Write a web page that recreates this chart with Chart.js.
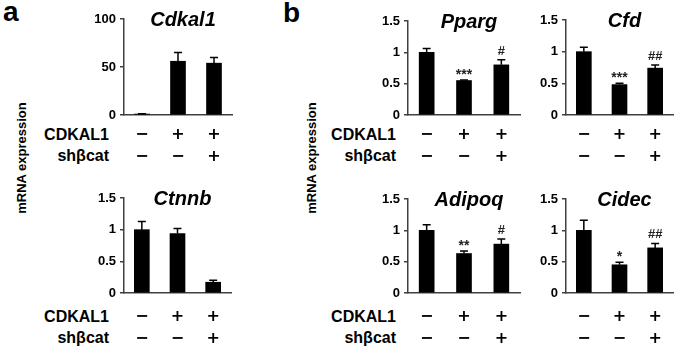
<!DOCTYPE html>
<html lang="en">
<head>
<meta charset="UTF-8">
<title>mRNA expression</title>
<script src="https://cdn.jsdelivr.net/npm/chart.js"></script>
<style>
  body { margin: 0; background: #fff; }
  #fig { position: relative; width: 675px; height: 349px; overflow: hidden;
         font-family: Arial, "Liberation Sans", sans-serif; }
  #fig canvas { position: absolute; }
  .txt { position: absolute; font-weight: bold; line-height: 1; white-space: nowrap; color: #000; }
  .letter { font-size: 28px; }
  .ylab { font-size: 13px; transform: translate(-50%, -50%) rotate(-90deg); }
  .rl { font-size: 16px; width: 100px; text-align: right; }
</style>
</head>
<body>
<div id="fig">
  <div class="txt letter" style="left:3px; top:-2px;">a</div>
  <div class="txt letter" style="left:283px; top:-1px;">b</div>
  <div class="txt ylab" style="left:21px; top:158px;">mRNA expression</div>
  <div class="txt ylab" style="left:311px; top:158px;">mRNA expression</div>

  <div class="txt rl" style="left:9px; top:127px;">CDKAL1</div>
  <div class="txt rl" style="left:9px; top:148px;">shβcat</div>
  <div class="txt rl" style="left:9px; top:309px;">CDKAL1</div>
  <div class="txt rl" style="left:9px; top:330px;">shβcat</div>
  <div class="txt rl" style="left:296px; top:127px;">CDKAL1</div>
  <div class="txt rl" style="left:296px; top:148px;">shβcat</div>
  <div class="txt rl" style="left:296px; top:309px;">CDKAL1</div>
  <div class="txt rl" style="left:296px; top:330px;">shβcat</div>
</div>

<script>
// treatment rows shown under the bars
const cdkal1Row = ['−', '+', '+'];
const shbcatRow = ['−', '−', '+'];

// y ticks
const ticksCdkal1 = [0, 50, 100];
const ticksRel = [0, 0.5, 1, 1.5];

// means, SEM and significance marks
const cdkal1Mean = [1, 56, 54];
const cdkal1Err = [0.3, 9, 6];
const ctnnbMean = [1.0, 0.94, 0.17];
const ctnnbErr = [0.13, 0.08, 0.03];
const ppargMean = [1.0, 0.55, 0.80];
const ppargErr = [0.06, 0.01, 0.08];
const ppargSig = ['', '***', '#'];
const cfdMean = [1.0, 0.48, 0.74];
const cfdErr = [0.07, 0.02, 0.05];
const cfdSig = ['', '***', '##'];
const adipoqMean = [1.0, 0.63, 0.78];
const adipoqErr = [0.09, 0.04, 0.08];
const adipoqSig = ['', '**', '#'];
const cidecMean = [1.0, 0.45, 0.72];
const cidecErr = [0.16, 0.04, 0.07];
const cidecSig = ['', '*', '##'];

const FONT = 'Arial, "Liberation Sans", sans-serif';
const SIGN_FONT = '"DejaVu Sans", Arial, sans-serif';
const AXIS = '#404040';
const fig = document.getElementById('fig');

// error bars, significance marks and the gene name
function extras(title) {
    return {
        id: 'extras',
        afterDatasetsDraw(chart) {
            const ctx = chart.ctx;
            const ds = chart.data.datasets[0];
            const meta = chart.getDatasetMeta(0);
            const y = chart.scales.y;
            ctx.save();
            ctx.strokeStyle = '#000';
            ctx.lineWidth = 1.5;
            meta.data.forEach((bar, i) => {
                const top = y.getPixelForValue(ds.data[i] + ds.errors[i]);
                ctx.beginPath();
                ctx.moveTo(bar.x, bar.y);
                ctx.lineTo(bar.x, top);
                ctx.moveTo(bar.x - 4, top);
                ctx.lineTo(bar.x + 4, top);
                ctx.stroke();
                const s = ds.sig && ds.sig[i];
                if (s) {
                    ctx.fillStyle = '#222';
                    ctx.textAlign = 'center';
                    ctx.textBaseline = 'alphabetic';
                    if (s.startsWith('*')) {
                        ctx.font = 'bold 14px ' + FONT;
                        ctx.fillText(s, bar.x, top - 1);
                    } else {
                        ctx.font = 'bold 13px ' + FONT;
                        ctx.fillText(s, bar.x, top - 5);
                    }
                }
            });
            const ca = chart.chartArea;
            ctx.fillStyle = '#000';
            ctx.font = 'italic bold 20px ' + FONT;
            ctx.textAlign = 'center';
            ctx.textBaseline = 'middle';
            ctx.fillText(title, (ca.left + ca.right) / 2 + 5, ca.top + 1);
            ctx.restore();
        }
    };
}

function makePanel(p) {
    const PL = 44, PT = 14, PR = 4, XH = 60;
    const cv = document.createElement('canvas');
    cv.width = PL + p.w + PR;
    cv.height = PT + p.h + XH;
    cv.style.left = (p.left - PL) + 'px';
    cv.style.top = (p.top - PT) + 'px';
    fig.appendChild(cv);

    new Chart(cv, {
        type: 'bar',
        data: {
            labels: cdkal1Row.map((c, i) => [c, shbcatRow[i]]),
            datasets: [{
                data: p.mean,
                errors: p.err,
                sig: p.sig,
                backgroundColor: '#000',
                barThickness: 15
            }]
        },
        options: {
            responsive: false,
            animation: false,
            devicePixelRatio: 1,
            layout: { padding: { top: PT, right: PR, left: 0, bottom: 0 } },
            plugins: { legend: { display: false }, tooltip: { enabled: false } },
            scales: {
                x: {
                    grid: { display: true, drawOnChartArea: false, drawTicks: false },
                    border: { color: AXIS, width: 1.5 },
                    ticks: {
                        color: '#000',
                        font: { family: SIGN_FONT, size: 16, weight: 'bold', lineHeight: 1.35 },
                        padding: p.rowPad,
                        maxRotation: 0,
                        autoSkip: false
                    },
                    afterFit: s => { s.height = XH; }
                },
                y: {
                    min: 0,
                    max: p.ticks[p.ticks.length - 1],
                    afterBuildTicks: s => { s.ticks = p.ticks.map(v => ({ value: v })); },
                    grid: { drawOnChartArea: false, drawTicks: true, tickLength: 4, color: AXIS, lineWidth: 1.5 },
                    border: { color: AXIS, width: 1.5 },
                    ticks: {
                        color: '#000',
                        font: { family: FONT, size: 13, weight: 'bold' },
                        padding: 4,
                        callback: v => String(v)
                    },
                    afterFit: s => { s.width = PL; }
                }
            }
        },
        plugins: [extras(p.title)]
    });
}

[
    { title: 'Cdkal1', mean: cdkal1Mean, err: cdkal1Err, sig: null, ticks: ticksCdkal1, left: 124, top: 19, w: 108, h: 96, rowPad: 9 },
    { title: 'Ctnnb', mean: ctnnbMean, err: ctnnbErr, sig: null, ticks: ticksRel, left: 124, top: 198, w: 107, h: 95, rowPad: 13 },
    { title: 'Pparg', mean: ppargMean, err: ppargErr, sig: ppargSig, ticks: ticksRel, left: 408, top: 21, w: 112, h: 94, rowPad: 9 },
    { title: 'Cfd', mean: cfdMean, err: cfdErr, sig: cfdSig, ticks: ticksRel, left: 566, top: 20, w: 107, h: 95, rowPad: 9 },
    { title: 'Adipoq', mean: adipoqMean, err: adipoqErr, sig: adipoqSig, ticks: ticksRel, left: 408, top: 199, w: 112, h: 94, rowPad: 13 },
    { title: 'Cidec', mean: cidecMean, err: cidecErr, sig: cidecSig, ticks: ticksRel, left: 566, top: 199, w: 107, h: 94, rowPad: 13 }
].forEach(makePanel);
</script>
</body>
</html>
